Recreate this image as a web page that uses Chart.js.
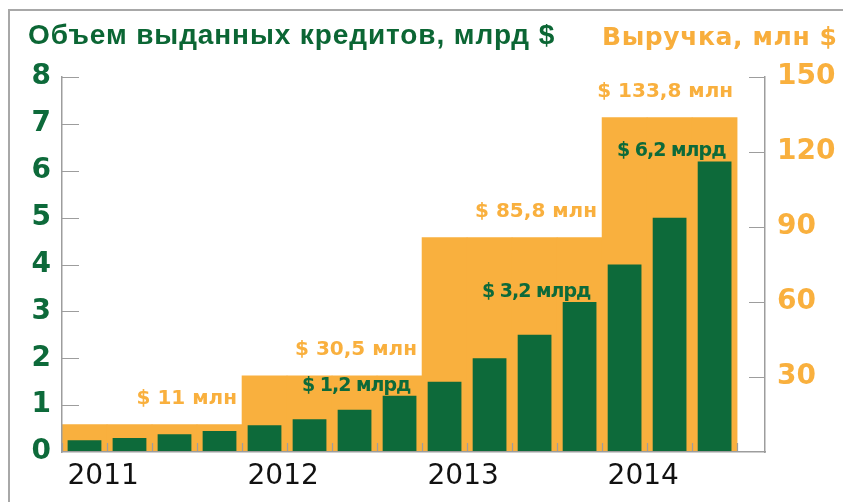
<!DOCTYPE html>
<html>
<head>
<meta charset="utf-8">
<script src="https://cdn.jsdelivr.net/npm/chart.js@4"></script>
<style>
  body { margin: 0; background: #fff; }
  #wrap { position: relative; width: 843px; height: 502px; overflow: hidden; }
  #frame { position: absolute; left: 8px; top: 9px; width: 900px; height: 600px;
           border-top: 2px solid #a8a8a8; border-left: 2px solid #a8a8a8; }
  .ttl { position: absolute; white-space: nowrap; line-height: 28px; font-weight: bold; }
  #t1 { left: 28px; top: 19px; font: bold 28px "Liberation Sans", Arial, sans-serif; letter-spacing: 0.9px; color: #0b6634; }
  #t2 { left: 602px; top: 22px; font: bold 25px "DejaVu Sans", sans-serif; letter-spacing: 0.6px; color: #f8ae3c; }
  canvas { position: absolute; left: 0; top: 0; }
</style>
</head>
<body>
<div id="wrap">
  <div id="frame"></div>
  <canvas id="chart" width="843" height="502"></canvas>
  <div class="ttl" id="t1">Объем выданных кредитов, млрд $</div>
  <div class="ttl" id="t2">Выручка, млн $</div>
</div>
<script>
// quarterly loans volume (bln $), 2011 Q1 .. 2014 Q3
const quarters = ['I 2011', 'II 2011', 'III 2011', 'IV 2011',
                  'I 2012', 'II 2012', 'III 2012', 'IV 2012',
                  'I 2013', 'II 2013', 'III 2013', 'IV 2013',
                  'I 2014', 'II 2014', 'III 2014'];
const loans = [0.25, 0.3, 0.38, 0.45, 0.57, 0.7, 0.9, 1.2, 1.5, 2.0, 2.5, 3.2, 4.0, 5.0, 6.2];
// yearly revenue (mln $)
const years = ['2011', '2012', '2013', '2014'];
const revenue = [11, 30.5, 85.8, 133.8];
// which year each quarter belongs to
const quarterYear = [0, 0, 0, 0, 1, 1, 1, 1, 2, 2, 2, 2, 3, 3, 3];
// quarters that carry a loans label
const loanLabelAt = [7, 11, 14];

const green = '#0d6a3a';
const orange = '#f9b03e';
const gray = '#9d9d9d';

const loanPoints = loans.map((v, i) => ({x: i, y: v}));
const revenuePoints = quarterYear.map((yi, i) => ({x: i, y: revenue[yi]}));

function fmt(v) {
  return String(v).replace('.', ',');
}

const decor = {
  id: 'decor',
  afterDatasetsDraw(chart) {
    const {ctx, chartArea, scales} = chart;
    const xs = scales.x, ys = scales.y, ys1 = scales.y1;
    ctx.save();
    ctx.strokeStyle = gray;
    ctx.lineWidth = 1.2;
    ctx.beginPath();
    // inner ticks on the left axis
    ys.ticks.forEach(t => {
      if (t.value === 0) return;
      const py = Math.round(ys.getPixelForValue(t.value)) + 0.5;
      ctx.moveTo(chartArea.left, py);
      ctx.lineTo(chartArea.left + 17, py);
    });
    // inner ticks on the right axis
    ys1.ticks.forEach(t => {
      if (t.value === 0) return;
      const py = Math.round(ys1.getPixelForValue(t.value)) + 0.5;
      ctx.moveTo(chartArea.right, py);
      ctx.lineTo(chartArea.right - 16, py);
    });
    // small ticks between quarters
    for (let i = 0; i <= loans.length; i++) {
      const px = Math.round(xs.getPixelForValue(i - 0.5)) + 0.5;
      ctx.moveTo(px, chartArea.bottom - 9);
      ctx.lineTo(px, chartArea.bottom);
    }
    ctx.stroke();

    ctx.textAlign = 'right';
    ctx.textBaseline = 'alphabetic';
    // revenue labels at the end of each year
    ctx.font = 'bold 20px "DejaVu Sans", sans-serif';
    const revMeta = chart.getDatasetMeta(1);
    years.forEach((y, yi) => {
      const last = quarterYear.lastIndexOf(yi);
      const el = revMeta.data[last];
      const right = yi === years.length - 1 ? el.x + el.width / 2 - 4 : el.x + el.width / 2 - 5;
      ctx.fillStyle = orange;
      ctx.fillText('$ ' + fmt(revenue[yi]) + ' млн', right, el.y - 21);
    });
    // loans labels
    ctx.font = 'bold 19px "DejaVu Sans", sans-serif';
    ctx.letterSpacing = '-1px';
    const loanMeta = chart.getDatasetMeta(0);
    loanLabelAt.forEach(i => {
      const el = loanMeta.data[i];
      ctx.fillStyle = green;
      ctx.fillText('$ ' + fmt(loans[i]) + ' млрд', el.x + el.width / 2 - 6, el.y - 5);
    });
    ctx.restore();
  }
};

new Chart(document.getElementById('chart'), {
  type: 'bar',
  data: {
    datasets: [
      {
        label: 'Объем выданных кредитов',
        data: loanPoints,
        yAxisID: 'y',
        backgroundColor: green,
        grouped: false,
        barPercentage: 0.75,
        categoryPercentage: 1
      },
      {
        label: 'Выручка',
        data: revenuePoints,
        yAxisID: 'y1',
        backgroundColor: orange,
        grouped: false,
        barPercentage: 1,
        categoryPercentage: 1
      }
    ]
  },
  options: {
    responsive: false,
    animation: false,
    devicePixelRatio: 1,
    layout: { padding: { top: 77, left: 0, right: 0, bottom: 0 } },
    plugins: { legend: { display: false }, tooltip: { enabled: false } },
    scales: {
      x: {
        type: 'linear',
        offset: false,
        min: -0.5,
        max: 15.12,
        grid: { display: false, drawTicks: false, offset: false },
        border: { display: true, color: gray, width: 1.5, z: 1 },
        afterBuildTicks: s => { s.ticks = years.map((_, i) => ({ value: i * 4 })); },
        afterFit: s => { s.height = 50; },
        ticks: {
          autoSkip: false,
          maxRotation: 0,
          align: 'start',
          labelOffset: -17,
          padding: 8,
          color: '#111',
          font: { family: '"DejaVu Sans", sans-serif', size: 28 },
          callback: v => years[v / 4]
        }
      },
      y: {
        position: 'left',
        min: 0,
        max: 8,
        grid: { display: false, drawTicks: false },
        border: { display: true, color: gray, width: 1.5, z: 1 },
        afterFit: s => { s.width = 62; },
        ticks: {
          stepSize: 1,
          padding: 11,
          color: green,
          font: { family: '"DejaVu Sans", sans-serif', size: 28, weight: 'bold' }
        }
      },
      y1: {
        position: 'right',
        min: 0,
        max: 150,
        grid: { display: false, drawTicks: false },
        border: { display: true, color: gray, width: 1.5, z: 1 },
        afterFit: s => { s.width = 78; },
        ticks: {
          stepSize: 30,
          padding: 12,
          color: orange,
          font: { family: '"DejaVu Sans", sans-serif', size: 28, weight: 'bold' },
          callback: v => v === 0 ? '' : v
        }
      }
    }
  },
  plugins: [decor]
});
</script>
</body>
</html>
